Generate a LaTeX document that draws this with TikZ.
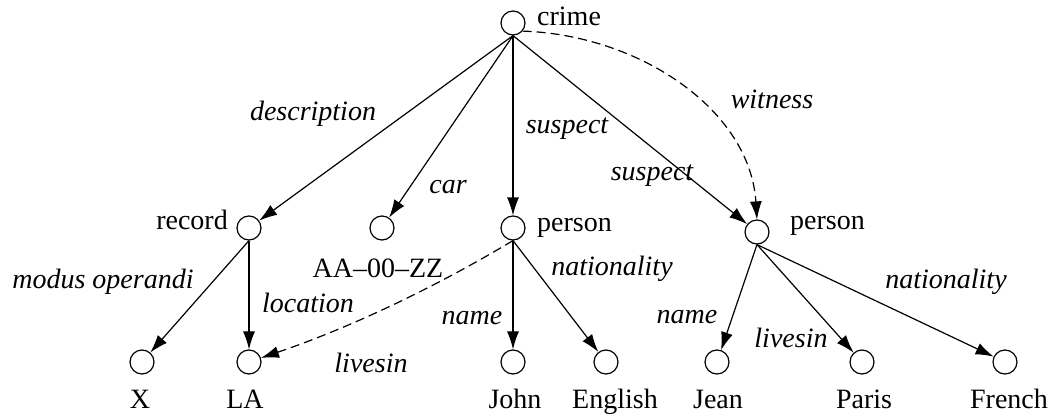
\documentclass[tikz,border=0pt]{standalone}
\usepackage{fontspec}
\setmainfont{Liberation Serif}
\usetikzlibrary{arrows.meta}
\begin{document}
\begin{tikzpicture}[x=1pt,y=-1pt]%
  \tikzstyle{cirn}=[circle,draw,line width=1.2pt,minimum size=24pt,inner sep=0]
  \tikzstyle{txtn}=[inner sep=0,anchor=base,font=\rmfamily\fontsize{28}{34}\selectfont]
  \tikzstyle{lbln}=[inner sep=0,anchor=base,font=\rmfamily\itshape\fontsize{28}{34}\selectfont]
  \tikzstyle{edg}=[-{Latex[length=18pt,width=12pt]},line width=1.2pt]
  \tikzstyle{dedg}=[edg,dash pattern=on 9pt off 5pt]
  \useasboundingbox (0,0) rectangle (1052,415);
  % circles
  \node(crime)[cirn] at (513,23){};
  \node(record)[cirn] at (249,228){};
  \node(car)[cirn] at (382,228){};
  \node(john)[cirn] at (513,228){};
  \node(jean)[cirn] at (757,232){};
  \node(x)[cirn] at (142,362){};
  \node(la)[cirn] at (249,362){};
  \node(jname)[cirn] at (513,362){};
  \node(english)[cirn] at (606,362){};
  \node(jnname)[cirn] at (717,362){};
  \node(paris)[cirn] at (862,362){};
  \node(french)[cirn] at (1005,362){};
  % node texts
  \node(t-crime)[txtn,anchor=base west] at (537,25){crime};
  \node(t-record)[txtn,anchor=base east] at (228,229){record};
  \node(t-car)[txtn] at (378,277){AA--00--ZZ};
  \node(t-john)[txtn,anchor=base west] at (537,231){person};
  \node(t-jean)[txtn,anchor=base west] at (790,229){person};
  \node(t-x)[txtn] at (140,408){X};
  \node(t-la)[txtn] at (245,408){LA};
  \node(t-jname)[txtn] at (515,408){John};
  \node(t-english)[txtn] at (615,408){English};
  \node(t-jnname)[txtn] at (718,408){Jean};
  \node(t-paris)[txtn] at (864,408){Paris};
  \node(t-french)[txtn] at (1009,408){French};
  % edges
  \draw[edg] (crime.south) -- (record);
  \draw[edg] (crime.south) -- (car);
  \draw[edg] (crime.south) -- (john);
  \draw[edg] (crime.south) -- (jean);
  \draw[dedg] (crime.-40) .. controls (640,35) and (750,110) .. (jean.north);
  \draw[edg] (record.south) -- (x);
  \draw[edg] (record.south) -- (la);
  \draw[edg] (john.south) -- (jname);
  \draw[edg] (john.south) -- (english);
  \draw[dedg] (john.south) .. controls (432,289) and (349,328) .. (la);
  \draw[edg] (jean.south) -- (jnname);
  \draw[edg] (jean.south) -- (paris);
  \draw[edg] (jean.south) -- (french);
  % edge labels
  \node(l-desc)[lbln] at (313,120){description};
  \node(l-car)[lbln] at (448,193){car};
  \node(l-susp1)[lbln] at (567,133){suspect};
  \node(l-witn)[lbln] at (772,108){witness};
  \node(l-susp2)[lbln] at (652,180){suspect};
  \node(l-modus)[lbln] at (103,288){modus operandi};
  \node(l-loc)[lbln] at (308,312){location};
  \node(l-lives1)[lbln] at (371,372){livesin};
  \node(l-name1)[lbln] at (472,324){name};
  \node(l-nat1)[lbln] at (612,275){nationality};
  \node(l-name2)[lbln] at (687,323){name};
  \node(l-lives2)[lbln] at (791,347){livesin};
  \node(l-nat2)[lbln] at (946,288){nationality};
\end{tikzpicture}
\end{document}
